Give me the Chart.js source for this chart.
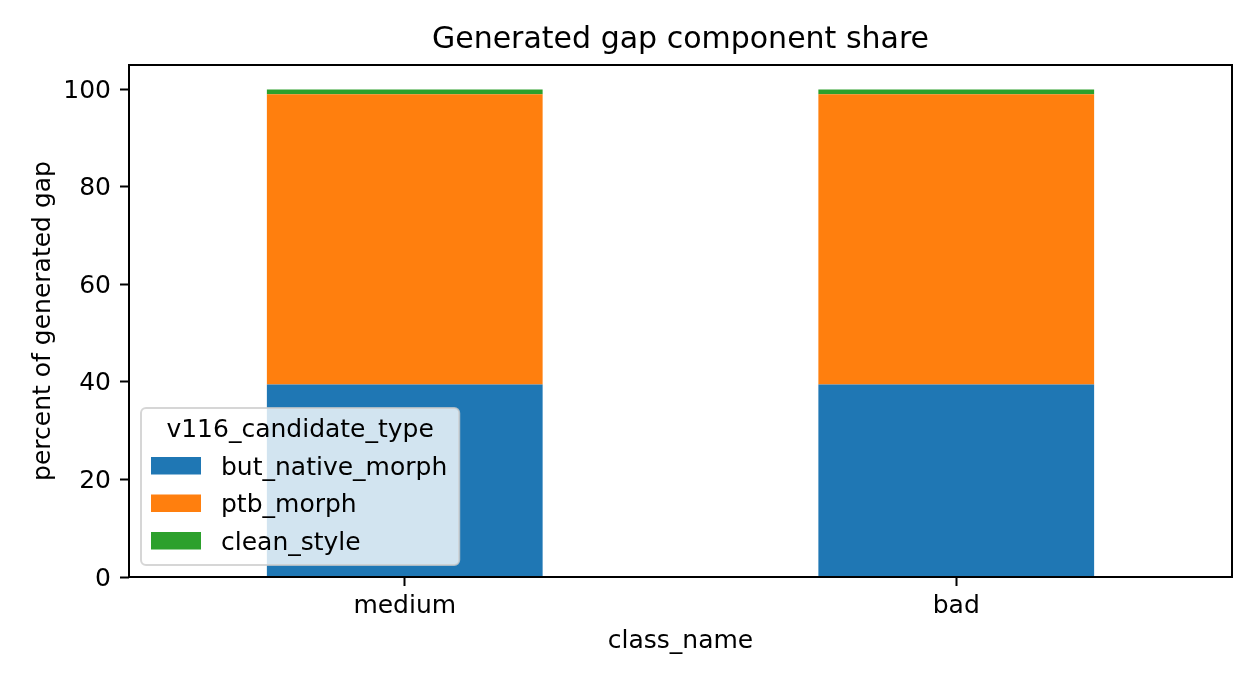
<!DOCTYPE html>
<html>
<head>
<meta charset="utf-8">
<script src="https://cdn.jsdelivr.net/npm/chart.js@4.4.1/dist/chart.umd.min.js"></script>
<style>
  body { margin: 0; background: #fff; }
  #wrap { width: 1260px; height: 684px; }
</style>
</head>
<body>
<div id="wrap"><canvas id="myChart" width="1260" height="684"></canvas></div>
<script>
// chart data
const classNames = ["medium", "bad"];
const butNativeMorph = [39.5, 39.5];
const ptbMorph = [59.5, 59.5];
const cleanStyle = [1.0, 1.0];
const seriesNames = ["but_native_morph", "ptb_morph", "clean_style"];
const seriesColors = ["#1f77b4", "#ff7f0e", "#2ca02c"];
const yTicks = [0, 20, 40, 60, 80, 100];

const FONT = "'DejaVu Sans', sans-serif";

// black frame round the plot area, like matplotlib spines
const framePlugin = {
  id: "frame",
  afterDatasetsDraw(chart) {
    const { ctx, chartArea } = chart;
    ctx.save();
    ctx.strokeStyle = "#000";
    ctx.lineWidth = 2;
    ctx.strokeRect(chartArea.left, chartArea.top,
      chartArea.right - chartArea.left, chartArea.bottom - chartArea.top);
    ctx.restore();
  },
};

// legend with a title, drawn inside the plot at lower left
const legendPlugin = {
  id: "innerLegend",
  afterDraw(chart) {
    const { ctx, chartArea } = chart;
    const title = "v116_candidate_type";
    const sets = chart.data.datasets;
    ctx.save();
    ctx.font = "25px " + FONT;
    const titleW = ctx.measureText(title).width;
    let labelW = 0;
    sets.forEach((ds) => {
      labelW = Math.max(labelW, ctx.measureText(ds.label).width);
    });
    const inner = Math.max(titleW, 50 + 20 + labelW);
    const w = inner + 22;
    const h = 157;
    const x = chartArea.left + 12;
    const y = chartArea.bottom - 12 - h;

    ctx.beginPath();
    ctx.roundRect(x, y, w, h, 5);
    ctx.fillStyle = "rgba(255,255,255,0.8)";
    ctx.fill();
    ctx.strokeStyle = "rgba(204,204,204,0.8)";
    ctx.lineWidth = 2;
    ctx.stroke();

    ctx.fillStyle = "#000";
    ctx.textBaseline = "alphabetic";
    ctx.textAlign = "center";
    ctx.fillText(title, x + w / 2, y + 29);

    ctx.textAlign = "left";
    sets.forEach((ds, i) => {
      const top = y + 49 + i * 37.5;
      ctx.fillStyle = ds.backgroundColor;
      ctx.fillRect(x + 10, top, 50, 17.5);
      ctx.fillStyle = "#000";
      ctx.fillText(ds.label, x + 80, top + 17.5);
    });
    ctx.restore();
  },
};

function makeChart() {
  const ctx = document.getElementById("myChart");
  const values = [butNativeMorph, ptbMorph, cleanStyle];

  const datasets = seriesNames.map((name, i) => ({
    label: name,
    data: values[i],
    backgroundColor: seriesColors[i],
    borderWidth: 0,
    barPercentage: 0.5,
    categoryPercentage: 1.0,
  }));

  new Chart(ctx, {
    type: "bar",
    data: { labels: classNames, datasets: datasets },
    plugins: [framePlugin, legendPlugin],
    options: {
      responsive: false,
      animation: false,
      devicePixelRatio: 1,
      layout: { padding: { left: 0, right: 28, top: 0, bottom: 0 } },
      plugins: {
        legend: { display: false },
        tooltip: { enabled: false },
        title: {
          display: true,
          text: "Generated gap component share",
          color: "#000",
          fullSize: false,
          font: { family: FONT, size: 30, weight: "normal", lineHeight: 1.2 },
          padding: { top: 22, bottom: 7 },
        },
      },
      scales: {
        x: {
          stacked: true,
          offset: true,
          afterFit: (scale) => { scale.height = 107; },
          grid: {
            offset: false,
            drawOnChartArea: false,
            drawTicks: true,
            tickLength: 9,
            tickWidth: 2,
            tickColor: "#000",
          },
          border: { display: false },
          ticks: {
            color: "#000",
            padding: 5,
            font: { family: FONT, size: 25 },
          },
          title: {
            display: true,
            text: "class_name",
            color: "#000",
            font: { family: FONT, size: 25, lineHeight: 1.2 },
            padding: { top: 0, bottom: 28 },
          },
        },
        y: {
          stacked: true,
          min: 0,
          max: 105,
          afterFit: (scale) => { scale.width = 129; },
          afterBuildTicks: (scale) => {
            scale.ticks = yTicks.map((v) => ({ value: v }));
          },
          grid: {
            drawOnChartArea: false,
            drawTicks: true,
            tickLength: 9,
            tickWidth: 2,
            tickColor: "#000",
          },
          border: { display: false },
          ticks: {
            color: "#000",
            padding: 9,
            labelOffset: 2,
            font: { family: FONT, size: 25 },
          },
          title: {
            display: true,
            text: "percent of generated gap",
            color: "#000",
            font: { family: FONT, size: 25, lineHeight: 1.2 },
            padding: { top: 28, bottom: 0 },
          },
        },
      },
    },
  });
}

makeChart();
</script>
</body>
</html>
